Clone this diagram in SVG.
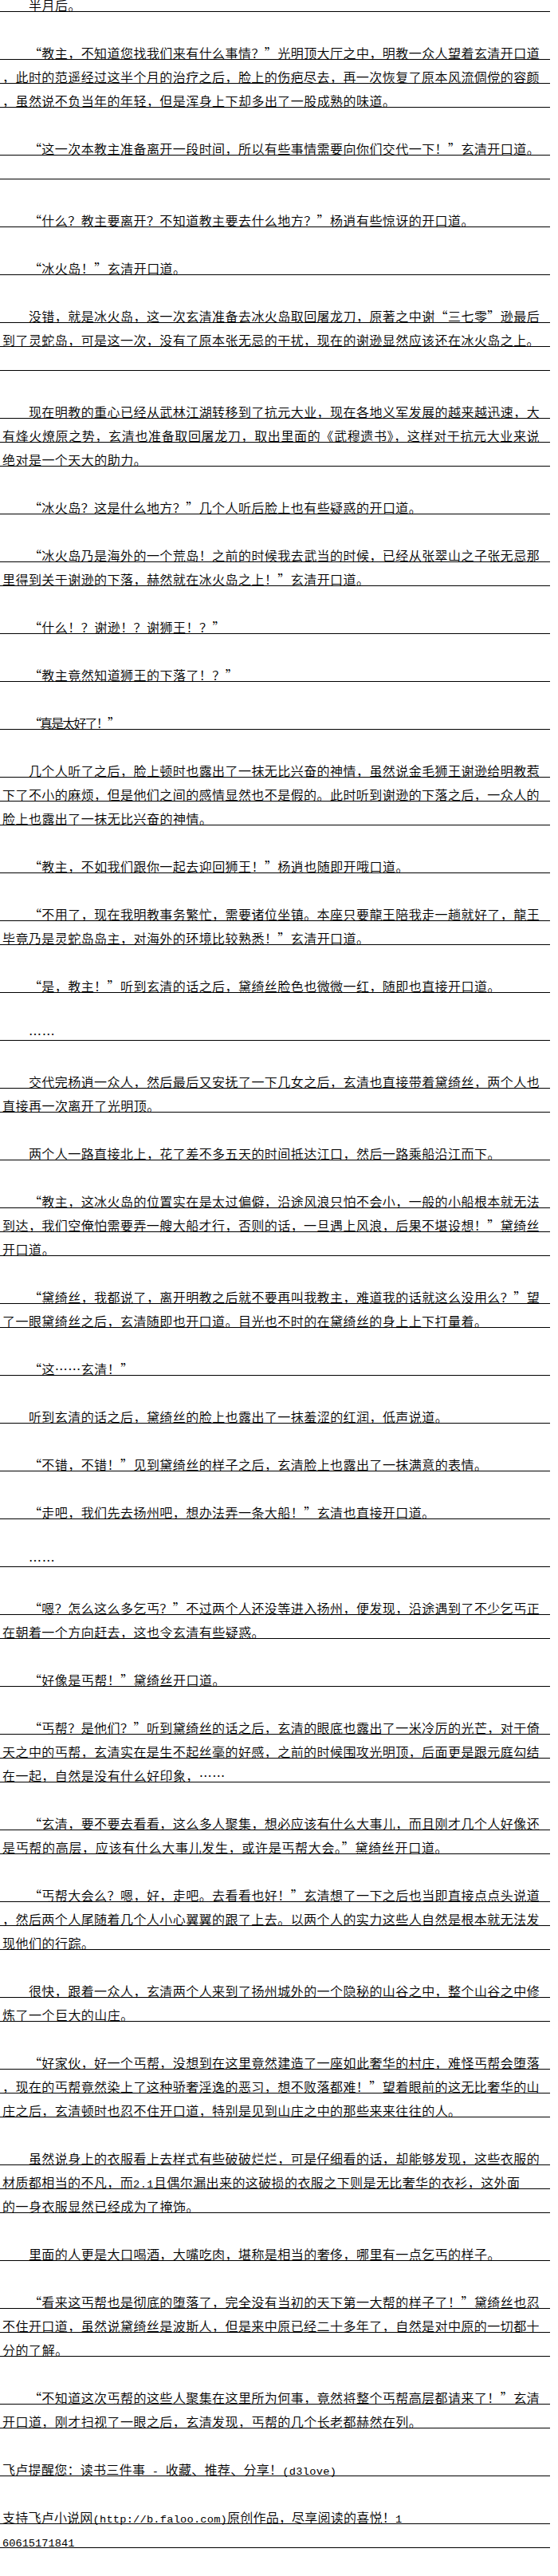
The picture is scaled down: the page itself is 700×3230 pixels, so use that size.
<svg xmlns="http://www.w3.org/2000/svg" width="700" height="3230" viewBox="0 0 700 3230">
<style>
.t{font-family:"Noto Sans CJK SC","Noto Sans CJK TC",sans-serif;font-size:16px;font-weight:350;fill:#000;font-feature-settings:"fwid"}
.f{font-family:"Noto Sans CJK SC","Noto Sans CJK TC",sans-serif;font-size:16px;font-weight:350;fill:#000}
.a{font-family:"Liberation Mono",monospace;font-size:13.7px}
.r{stroke:#000;stroke-width:1;fill:none;shape-rendering:crispEdges}
</style>
<rect x="0" y="0" width="700" height="3230" fill="#fff"/>
<g id="rules">
<path class="r" d="M0 14.5H690M0 74.5H690M0 104.5H690M0 134.5H690M0 194.5H690M0 224.5H690M0 284.5H690M0 344.5H690M0 404.5H690M0 434.5H690M0 464.5H690M0 524.5H690M0 554.5H690M0 584.5H690M0 644.5H690M0 704.5H690M0 734.5H690M0 794.5H690M0 854.5H690M0 914.5H690M0 974.5H690M0 1004.5H690M0 1034.5H690M0 1094.5H690M0 1154.5H690M0 1184.5H690M0 1244.5H690M0 1304.5H690M0 1364.5H690M0 1394.5H690M0 1454.5H690M0 1514.5H690M0 1544.5H690M0 1574.5H690M0 1634.5H690M0 1664.5H690M0 1724.5H690M0 1784.5H690M0 1844.5H690M0 1904.5H690M0 1964.5H690M0 2024.5H690M0 2054.5H690M0 2114.5H690M0 2174.5H690M0 2204.5H690M0 2234.5H690M0 2294.5H690M0 2324.5H690M0 2384.5H690M0 2414.5H690M0 2444.5H690M0 2504.5H690M0 2534.5H690M0 2594.5H690M0 2624.5H690M0 2654.5H690M0 2714.5H690M0 2744.5H690M0 2774.5H690M0 2834.5H690M0 2894.5H690M0 2924.5H690M0 2954.5H690M0 3014.5H690M0 3044.5H690M0 3104.5H690M0 3164.5H690M0 3194.5H690"/>
</g>
<g id="text">
<text class="t" x="35.9" y="13" textLength="65.7" lengthAdjust="spacing">半月后。</text>
<text class="t" x="35.9" y="73" textLength="640.8" lengthAdjust="spacing">“教主，不知道您找我们来有什么事情？”光明顶大厅之中，明教一众人望着玄清开口道</text>
<text class="t" x="3" y="103" textLength="673.6" lengthAdjust="spacing">，此时的范遥经过这半个月的治疗之后，脸上的伤疤尽去，再一次恢复了原本风流倜傥的容颜</text>
<text class="t" x="3" y="133" textLength="492.9" lengthAdjust="spacing">，虽然说不负当年的年轻，但是浑身上下却多出了一股成熟的味道。</text>
<text class="t" x="35.9" y="193" textLength="640.8" lengthAdjust="spacing">“这一次本教主准备离开一段时间，所以有些事情需要向你们交代一下！”玄清开口道。</text>
<text class="t" x="35.9" y="283" textLength="558.6" lengthAdjust="spacing">“什么？教主要离开？不知道教主要去什么地方？”杨逍有些惊讶的开口道。</text>
<text class="t" x="35.9" y="343" textLength="197.2" lengthAdjust="spacing">“冰火岛！”玄清开口道。</text>
<text class="t" x="35.9" y="403" textLength="640.8" lengthAdjust="spacing">没错，就是冰火岛，这一次玄清准备去冰火岛取回屠龙刀，原著之中谢“三七零”逊最后</text>
<text class="t" x="3" y="433" textLength="673.6" lengthAdjust="spacing">到了灵蛇岛，可是这一次，没有了原本张无忌的干扰，现在的谢逊显然应该还在冰火岛之上。</text>
<text class="t" x="35.9" y="523" textLength="640.8" lengthAdjust="spacing">现在明教的重心已经从武林江湖转移到了抗元大业，现在各地义军发展的越来越迅速，大</text>
<text class="t" x="3" y="553" textLength="673.6" lengthAdjust="spacing">有烽火燎原之势，玄清也准备取回屠龙刀，取出里面的《武穆遗书》，这样对于抗元大业来说</text>
<text class="t" x="3" y="583" textLength="180.7" lengthAdjust="spacing">绝对是一个天大的助力。</text>
<text class="t" x="35.9" y="643" textLength="492.9" lengthAdjust="spacing">“冰火岛？这是什么地方？”几个人听后脸上也有些疑惑的开口道。</text>
<text class="t" x="35.9" y="703" textLength="640.8" lengthAdjust="spacing">“冰火岛乃是海外的一个荒岛！之前的时候我去武当的时候，已经从张翠山之子张无忌那</text>
<text class="t" x="3" y="733" textLength="460" lengthAdjust="spacing">里得到关于谢逊的下落，赫然就在冰火岛之上！”玄清开口道。</text>
<text class="t" x="35.9" y="793" textLength="246.5" lengthAdjust="spacing">“什么！？谢逊！？谢狮王！？”</text>
<text class="t" x="35.9" y="853" textLength="262.9" lengthAdjust="spacing">“教主竟然知道狮王的下落了！？”</text>
<text class="t" x="35.9" y="913" textLength="115" lengthAdjust="spacing">“真是太好了！”</text>
<text class="t" x="35.9" y="973" textLength="640.8" lengthAdjust="spacing">几个人听了之后，脸上顿时也露出了一抹无比兴奋的神情，虽然说金毛狮王谢逊给明教惹</text>
<text class="t" x="3" y="1003" textLength="673.6" lengthAdjust="spacing">下了不小的麻烦，但是他们之间的感情显然也不是假的。此时听到谢逊的下落之后，一众人的</text>
<text class="t" x="3" y="1033" textLength="262.9" lengthAdjust="spacing">脸上也露出了一抹无比兴奋的神情。</text>
<text class="t" x="35.9" y="1093" textLength="476.5" lengthAdjust="spacing">“教主，不如我们跟你一起去迎回狮王！”杨逍也随即开哦口道。</text>
<text class="t" x="35.9" y="1153" textLength="640.8" lengthAdjust="spacing">“不用了，现在我明教事务繁忙，需要诸位坐镇。本座只要龍王陪我走一趟就好了，龍王</text>
<text class="t" x="3" y="1183" textLength="460" lengthAdjust="spacing">毕竟乃是灵蛇岛岛主，对海外的环境比较熟悉！”玄清开口道。</text>
<text class="t" x="35.9" y="1243" textLength="591.5" lengthAdjust="spacing">“是，教主！”听到玄清的话之后，黛绮丝脸色也微微一红，随即也直接开口道。</text>
<text class="t" x="35.9" y="1303" textLength="32.9" lengthAdjust="spacing">……</text>
<text class="t" x="35.9" y="1363" textLength="640.8" lengthAdjust="spacing">交代完杨逍一众人，然后最后又安抚了一下几女之后，玄清也直接带着黛绮丝，两个人也</text>
<text class="t" x="3" y="1393" textLength="197.2" lengthAdjust="spacing">直接再一次离开了光明顶。</text>
<text class="t" x="35.9" y="1453" textLength="591.5" lengthAdjust="spacing">两个人一路直接北上，花了差不多五天的时间抵达江口，然后一路乘船沿江而下。</text>
<text class="t" x="35.9" y="1513" textLength="640.8" lengthAdjust="spacing">“教主，这冰火岛的位置实在是太过偏僻，沿途风浪只怕不会小，一般的小船根本就无法</text>
<text class="t" x="3" y="1543" textLength="673.6" lengthAdjust="spacing">到达，我们空俺怕需要弄一艘大船才行，否则的话，一旦遇上风浪，后果不堪设想！”黛绮丝</text>
<text class="t" x="3" y="1573" textLength="65.7" lengthAdjust="spacing">开口道。</text>
<text class="t" x="35.9" y="1633" textLength="640.8" lengthAdjust="spacing">“黛绮丝，我都说了，离开明教之后就不要再叫我教主，难道我的话就这么没用么？”望</text>
<text class="t" x="3" y="1663" textLength="607.9" lengthAdjust="spacing">了一眼黛绮丝之后，玄清随即也开口道。目光也不时的在黛绮丝的身上上下打量着。</text>
<text class="t" x="35.9" y="1723" textLength="131.4" lengthAdjust="spacing">“这……玄清！”</text>
<text class="t" x="35.9" y="1783" textLength="525.8" lengthAdjust="spacing">听到玄清的话之后，黛绮丝的脸上也露出了一抹羞涩的红润，低声说道。</text>
<text class="t" x="35.9" y="1843" textLength="575.1" lengthAdjust="spacing">“不错，不错！”见到黛绮丝的样子之后，玄清脸上也露出了一抹满意的表情。</text>
<text class="t" x="35.9" y="1903" textLength="509.3" lengthAdjust="spacing">“走吧，我们先去扬州吧，想办法弄一条大船！”玄清也直接开口道。</text>
<text class="t" x="35.9" y="1963" textLength="32.9" lengthAdjust="spacing">……</text>
<text class="t" x="35.9" y="2023" textLength="640.8" lengthAdjust="spacing">“嗯？怎么这么多乞丐？”不过两个人还没等进入扬州，便发现，沿途遇到了不少乞丐正</text>
<text class="t" x="3" y="2053" textLength="328.6" lengthAdjust="spacing">在朝着一个方向赶去，这也令玄清有些疑惑。</text>
<text class="t" x="35.9" y="2113" textLength="246.5" lengthAdjust="spacing">“好像是丐帮！”黛绮丝开口道。</text>
<text class="t" x="35.9" y="2173" textLength="640.8" lengthAdjust="spacing">“丐帮？是他们？”听到黛绮丝的话之后，玄清的眼底也露出了一米冷厉的光芒，对于倚</text>
<text class="t" x="3" y="2203" textLength="673.6" lengthAdjust="spacing">天之中的丐帮，玄清实在是生不起丝毫的好感，之前的时候围攻光明顶，后面更是跟元庭勾结</text>
<text class="t" x="3" y="2233" textLength="279.3" lengthAdjust="spacing">在一起，自然是没有什么好印象，……</text>
<text class="t" x="35.9" y="2293" textLength="640.8" lengthAdjust="spacing">“玄清，要不要去看看，这么多人聚集，想必应该有什么大事儿，而且刚才几个人好像还</text>
<text class="t" x="3" y="2323" textLength="558.6" lengthAdjust="spacing">是丐帮的高层，应该有什么大事儿发生，或许是丐帮大会。”黛绮丝开口道。</text>
<text class="t" x="35.9" y="2383" textLength="640.8" lengthAdjust="spacing">“丐帮大会么？嗯，好，走吧。去看看也好！”玄清想了一下之后也当即直接点点头说道</text>
<text class="t" x="3" y="2413" textLength="673.6" lengthAdjust="spacing">，然后两个人尾随着几个人小心翼翼的跟了上去。以两个人的实力这些人自然是根本就无法发</text>
<text class="t" x="3" y="2443" textLength="115" lengthAdjust="spacing">现他们的行踪。</text>
<text class="t" x="35.9" y="2503" textLength="640.8" lengthAdjust="spacing">很快，跟着一众人，玄清两个人来到了扬州城外的一个隐秘的山谷之中，整个山谷之中修</text>
<text class="t" x="3" y="2533" textLength="164.3" lengthAdjust="spacing">炼了一个巨大的山庄。</text>
<text class="t" x="35.9" y="2593" textLength="640.8" lengthAdjust="spacing">“好家伙，好一个丐帮，没想到在这里竟然建造了一座如此奢华的村庄，难怪丐帮会堕落</text>
<text class="t" x="3" y="2623" textLength="673.6" lengthAdjust="spacing">，现在的丐帮竟然染上了这种骄奢淫逸的恶习，想不败落都难！”望着眼前的这无比奢华的山</text>
<text class="t" x="3" y="2653" textLength="575.1" lengthAdjust="spacing">庄之后，玄清顿时也忍不住开口道，特别是见到山庄之中的那些来来往往的人。</text>
<text class="t" x="35.9" y="2713" textLength="640.8" lengthAdjust="spacing">虽然说身上的衣服看上去样式有些破破烂烂，可是仔细看的话，却能够发现，这些衣服的</text>
<text class="f" x="3" y="2743" textLength="649" lengthAdjust="spacing">材质都相当的不凡，而<tspan class="a">2.1</tspan>且偶尔漏出来的这破损的衣服之下则是无比奢华的衣衫，这外面</text>
<text class="t" x="3" y="2773" textLength="246.5" lengthAdjust="spacing">的一身衣服显然已经成为了掩饰。</text>
<text class="t" x="35.9" y="2833" textLength="591.5" lengthAdjust="spacing">里面的人更是大口喝酒，大嘴吃肉，堪称是相当的奢侈，哪里有一点乞丐的样子。</text>
<text class="t" x="35.9" y="2893" textLength="640.8" lengthAdjust="spacing">“看来这丐帮也是彻底的堕落了，完全没有当初的天下第一大帮的样子了！”黛绮丝也忍</text>
<text class="t" x="3" y="2923" textLength="673.6" lengthAdjust="spacing">不住开口道，虽然说黛绮丝是波斯人，但是来中原已经二十多年了，自然是对中原的一切都十</text>
<text class="t" x="3" y="2953" textLength="82.2" lengthAdjust="spacing">分的了解。</text>
<text class="t" x="35.9" y="3013" textLength="640.8" lengthAdjust="spacing">“不知道这次丐帮的这些人聚集在这里所为何事，竟然将整个丐帮高层都请来了！”玄清</text>
<text class="t" x="3" y="3043" textLength="525.8" lengthAdjust="spacing">开口道，刚才扫视了一眼之后，玄清发现，丐帮的几个长老都赫然在列。</text>
<text class="f" x="3" y="3103" textLength="419" lengthAdjust="spacing">飞卢提醒您：读书三件事<tspan class="a"> - </tspan>收藏、推荐、分享！<tspan class="a">(d3love)</tspan></text>
<text class="f" x="3" y="3163" textLength="501.1" lengthAdjust="spacing">支持飞卢小说网<tspan class="a">(http://b.faloo.com)</tspan>原创作品，尽享阅读的喜悦！<tspan class="a">1</tspan></text>
<text class="f" x="3" y="3193" textLength="90.4" lengthAdjust="spacing"><tspan class="a">60615171841</tspan></text>
</g>
</svg>
